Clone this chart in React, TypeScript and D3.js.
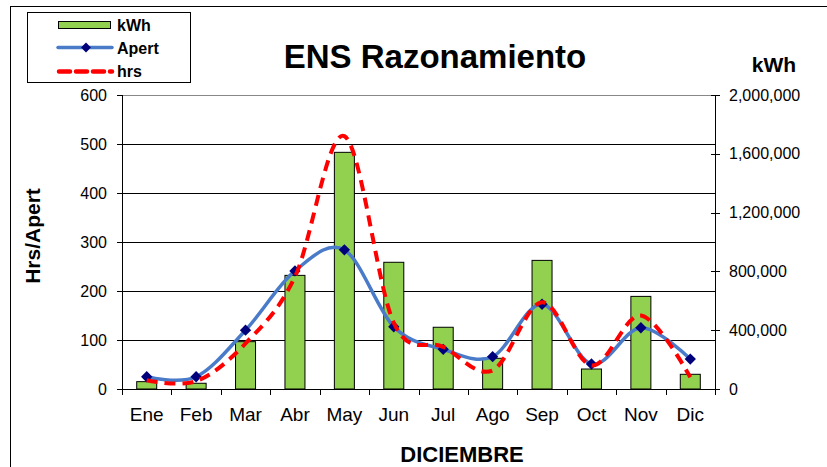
import React from "react";
import * as d3 from "d3";

const months = ["Ene", "Feb", "Mar", "Abr", "May", "Jun", "Jul", "Ago", "Sep", "Oct", "Nov", "Dic"];
const kwh = [50000, 39000, 322000, 773000, 1610000, 862000, 420000, 209000, 875000, 136000, 630000, 100000];
const apert = [25, 25, 120, 241, 284, 127, 81, 66, 173, 51, 125, 61];
const hrs = [18, 16, 93, 229, 516, 135, 86, 38, 177, 48, 150, 24];
const leftTicks = [0, 100, 200, 300, 400, 500, 600];
const rightTicks = [0, 400000, 800000, 1200000, 1600000, 2000000];

const W = 827, H = 467;
const L = 122, R = 715, T = 95, B = 389;
const FONT = "Liberation Sans, Arial, sans-serif";

export default function App() {
  const x = d3.scaleBand<string>().domain(months).range([L, R]).padding(0);
  const yL = d3.scaleLinear().domain([0, 600]).range([B, T]);
  const yR = d3.scaleLinear().domain([0, 2000000]).range([B, T]);
  const cx = (m: string) => (x(m) as number) + x.bandwidth() / 2;
  const curve = d3.curveCatmullRom.alpha(0);
  const lineA = d3.line<number>().x((_, i) => cx(months[i])).y((d) => yL(d)).curve(curve);
  const fmt = d3.format(",");
  const barW = 20;

  return (
    <svg width={W} height={H} style={{ position: "absolute", left: 0, top: 0, background: "#fff" }}>
      {/* outer frame */}
      <line x1={10} y1={6.5} x2={W} y2={6.5} stroke="#000" strokeWidth={1} />
      <line x1={10.5} y1={6} x2={10.5} y2={H} stroke="#000" strokeWidth={1} />

      {/* gridlines */}
      {leftTicks.map((t) => (
        <line key={"g" + t} x1={L} x2={R} y1={Math.round(yL(t)) + 0.5} y2={Math.round(yL(t)) + 0.5}
          stroke={t === 600 ? "#888" : "#000"} strokeWidth={1} />
      ))}

      {/* bars */}
      {months.map((m, i) => (
        <rect key={"b" + m} x={cx(m) - barW / 2} y={yR(kwh[i])} width={barW} height={B - yR(kwh[i])}
          fill="#92D050" stroke="#000" strokeWidth={1} />
      ))}

      {/* left axis */}
      <line x1={L + 0.5} x2={L + 0.5} y1={T} y2={B} stroke="#000" />
      {leftTicks.map((t) => (
        <g key={"lt" + t}>
          <line x1={L - 5} x2={L} y1={Math.round(yL(t)) + 0.5} y2={Math.round(yL(t)) + 0.5} stroke="#000" />
          <text x={L - 15} y={yL(t)} dy="0.35em" textAnchor="end" fontFamily={FONT} fontSize={16}>{t}</text>
        </g>
      ))}

      {/* right axis */}
      <line x1={R + 0.5} x2={R + 0.5} y1={T} y2={B} stroke="#000" />
      {rightTicks.map((t) => (
        <g key={"rt" + t}>
          <line x1={R - 4} x2={R + 5} y1={Math.round(yR(t)) + 0.5} y2={Math.round(yR(t)) + 0.5} stroke="#000" />
          <text x={R + 14} y={yR(t)} dy="0.35em" textAnchor="start" fontFamily={FONT} fontSize={16}>{fmt(t)}</text>
        </g>
      ))}

      {/* x axis */}
      <line x1={L} x2={R + 1} y1={B + 0.5} y2={B + 0.5} stroke="#000" />
      {months.map((m) => (
        <line key={"xt" + m} x1={Math.round(x(m) as number) + 0.5} x2={Math.round(x(m) as number) + 0.5}
          y1={B} y2={B + 6} stroke="#000" />
      ))}
      <line x1={R + 0.5} x2={R + 0.5} y1={B} y2={B + 6} stroke="#000" />
      {months.map((m) => (
        <text key={"xl" + m} x={cx(m)} y={414} dy="0.35em" textAnchor="middle" fontFamily={FONT} fontSize={19}>{m}</text>
      ))}

      {/* lines */}
      <path d={lineA(apert) || ""} fill="none" stroke="#4A7BC9" strokeWidth={3.5} />
      {months.map((m, i) => (
        <rect key={"mk" + m} x={-4} y={-4} width={8} height={8} fill="#00007A"
          transform={`translate(${cx(m)},${yL(apert[i])}) rotate(45)`} />
      ))}
      <path d={lineA(hrs) || ""} fill="none" stroke="#FF0000" strokeWidth={4} strokeDasharray="11,7" />

      {/* titles */}
      <text x={435} y={68} textAnchor="middle" fontFamily={FONT} fontWeight="bold" fontSize={33}>ENS Razonamiento</text>
      <text x={774} y={72} textAnchor="middle" fontFamily={FONT} fontWeight="bold" fontSize={21}>kWh</text>
      <text transform={`translate(33,236) rotate(-90)`} dy="0.35em" textAnchor="middle" fontFamily={FONT} fontWeight="bold" fontSize={21}>Hrs/Apert</text>
      <text x={462} y={462} textAnchor="middle" fontFamily={FONT} fontWeight="bold" fontSize={22}>DICIEMBRE</text>

      {/* legend */}
      <rect x={27.5} y={12.5} width={163} height={70} fill="#fff" stroke="#000" strokeWidth={1} />
      <rect x={58.5} y={21.5} width={52} height={7} fill="#92D050" stroke="#000" strokeWidth={1} />
      <text x={117} y={25} dy="0.35em" fontFamily={FONT} fontWeight="bold" fontSize={16}>kWh</text>
      <line x1={58} x2={112} y1={47.5} y2={47.5} stroke="#4A7BC9" strokeWidth={3.5} strokeLinecap="round" />
      <rect x={-3.5} y={-3.5} width={7} height={7} fill="#00007A" transform="translate(86,47.5) rotate(45)" />
      <text x={117} y={48} dy="0.35em" fontFamily={FONT} fontWeight="bold" fontSize={16}>Apert</text>
      <line x1={59} x2={112} y1={71.5} y2={71.5} stroke="#FF0000" strokeWidth={4.5} strokeDasharray="11,6" strokeLinecap="round" />
      <text x={117} y={71} dy="0.35em" fontFamily={FONT} fontWeight="bold" fontSize={16}>hrs</text>
    </svg>
  );
}
